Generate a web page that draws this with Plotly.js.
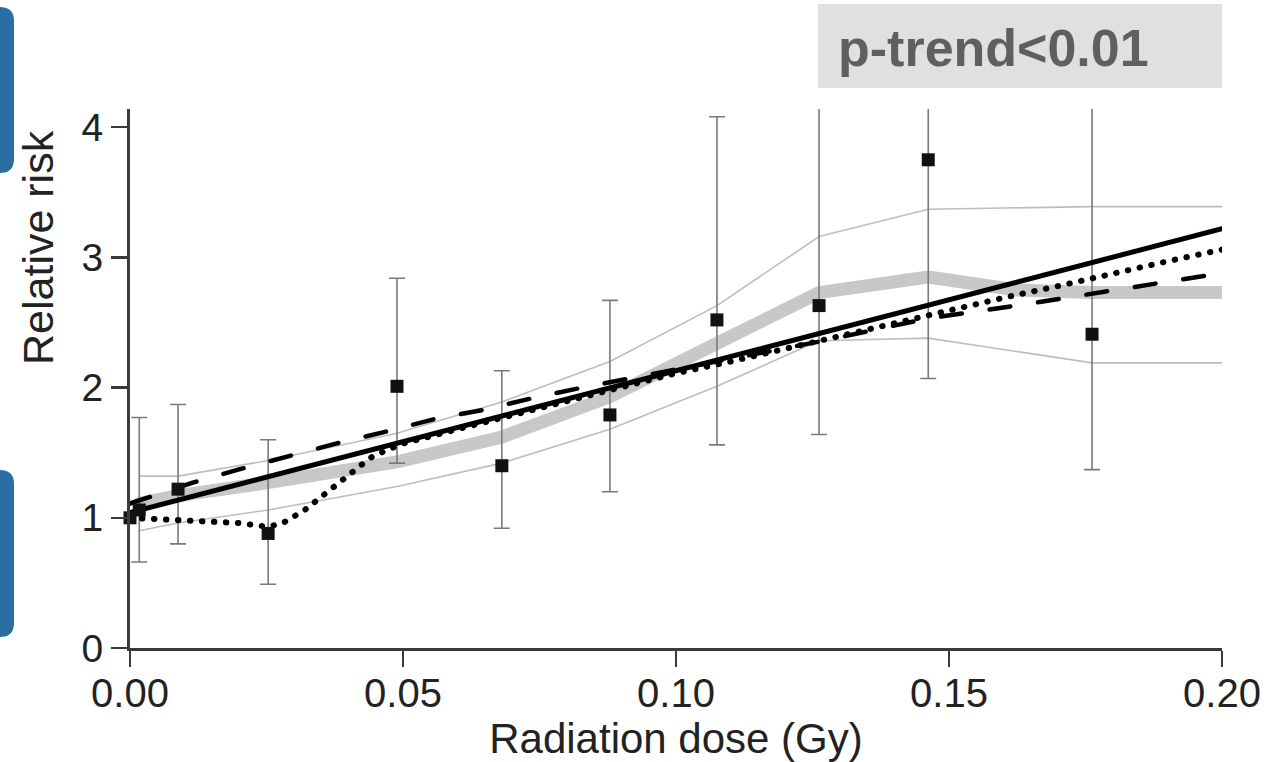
<!DOCTYPE html>
<html>
<head>
<meta charset="utf-8">
<script src="https://cdn.plot.ly/plotly-3.0.1.min.js"></script>
<style>
html, body { margin: 0; padding: 0; background: #ffffff; }
#chart { width: 1278px; height: 762px; }
#chart path.js-line { stroke-linecap: round !important; stroke-linejoin: round !important; }
</style>
</head>
<body>
<div id="chart"></div>
<script>
// ---- Data ----
// Category-specific relative risks (squares) with 95% CI
const doseCat = [0.0017, 0.0088, 0.0253, 0.0489, 0.0681, 0.0879, 0.1075, 0.1262, 0.1462, 0.1762];
const rrCat   = [1.06, 1.22, 0.88, 2.01, 1.40, 1.79, 2.52, 2.63, 3.75, 2.41];
const ciLow   = [0.66, 0.80, 0.49, 1.42, 0.92, 1.20, 1.56, 1.64, 2.07, 1.37];
const ciHigh  = [1.77, 1.87, 1.60, 2.84, 2.13, 2.67, 4.08, 4.60, 5.20, 5.00];

// Reference category
const refDose = [0];
const refRR = [1.0];

// Linear fitted model (solid)
const linDose = [0, 0.2];
const linRR = [1.04, 3.22];

// Second model (dashed)
const dashDose = [0, 0.0115, 0.0198, 0.0288, 0.0377, 0.0467, 0.0559, 0.0648, 0.0738, 0.0828, 0.0916, 0.110, 0.127, 0.146, 0.164, 0.182, 0.2];
const dashRR   = [1.11, 1.27, 1.37, 1.47, 1.57, 1.66, 1.76, 1.83, 1.92, 2.00, 2.07, 2.22, 2.36, 2.53, 2.64, 2.76, 2.88];

// Third model (dotted)
const dotDose = [0, 0.005, 0.010, 0.015, 0.020, 0.0253, 0.028, 0.032, 0.035, 0.038, 0.041, 0.044, 0.047, 0.050, 0.060, 0.070, 0.080, 0.090, 0.100, 0.110, 0.120, 0.130, 0.140, 0.150, 0.160, 0.170, 0.180, 0.190, 0.200];
const dotRR   = [1.00, 0.99, 0.98, 0.97, 0.96, 0.93, 0.96, 1.06, 1.16, 1.26, 1.37, 1.46, 1.52, 1.57, 1.68, 1.79, 1.90, 2.01, 2.11, 2.20, 2.30, 2.40, 2.50, 2.60, 2.69, 2.78, 2.88, 2.97, 3.06];

// Smoothed estimate (thick grey) and its confidence band (thin grey)
const smoothDose = [0.0017, 0.0088, 0.0253, 0.0489, 0.0681, 0.0879, 0.1075, 0.1262, 0.1462, 0.1625, 0.1762, 0.2];
const smoothRR   = [1.11, 1.17, 1.27, 1.43, 1.62, 1.93, 2.34, 2.73, 2.85, 2.75, 2.73, 2.73];
const bandDose   = [0.0017, 0.0088, 0.0253, 0.0489, 0.0681, 0.0879, 0.1075, 0.1262, 0.1462, 0.1762, 0.2];
const bandUpper  = [1.32, 1.32, 1.44, 1.65, 1.89, 2.20, 2.63, 3.16, 3.37, 3.39, 3.39];
const bandLower  = [0.90, 0.96, 1.06, 1.24, 1.42, 1.68, 2.01, 2.36, 2.38, 2.19, 2.19];

// Axis ticks and labels
const xTickVals = [0, 0.05, 0.10, 0.15, 0.20];
const xTickText = ['0.00', '0.05', '0.10', '0.15', '0.20'];
const yTickVals = [0, 1, 2, 3, 4];
const xTitle = 'Radiation dose (Gy)';
const yTitle = 'Relative risk';
const trendLabel = 'p-trend<0.01';

// ---- Layout helpers (pixel -> paper) ----
const W = 1278, H = 762;
const M = { l: 130, r: 56, t: 109, b: 114 };
const PW = W - M.l - M.r, PH = H - M.t - M.b;
const px = x => (x - M.l) / PW;
const py = y => (H - M.b - y) / PH;

function roundRightPath(x0, x1, y0, y1, r) {
  return 'M ' + px(x0) + ',' + py(y0) +
    ' L ' + px(x1 - r) + ',' + py(y0) +
    ' Q ' + px(x1) + ',' + py(y0) + ' ' + px(x1) + ',' + py(y0 + r) +
    ' L ' + px(x1) + ',' + py(y1 - r) +
    ' Q ' + px(x1) + ',' + py(y1) + ' ' + px(x1 - r) + ',' + py(y1) +
    ' L ' + px(x0) + ',' + py(y1) + ' Z';
}

const FONT = '"Liberation Sans", Arial, Helvetica, sans-serif';

const traces = [
  { x: bandDose, y: bandUpper, type: 'scatter', mode: 'lines',
    line: { color: '#bdbdbd', width: 1.6 }, hoverinfo: 'skip' },
  { x: bandDose, y: bandLower, type: 'scatter', mode: 'lines',
    line: { color: '#bdbdbd', width: 1.6 }, hoverinfo: 'skip' },
  { x: smoothDose, y: smoothRR, type: 'scatter', mode: 'lines',
    line: { color: '#c8c8c8', width: 13 }, hoverinfo: 'skip' },
  { x: doseCat, y: rrCat, type: 'scatter', mode: 'markers', cliponaxis: true,
    marker: { symbol: 'square', size: 1, color: 'rgba(0,0,0,0)' },
    error_y: { type: 'data', symmetric: false,
      array: ciHigh.map((h, i) => h - rrCat[i]),
      arrayminus: rrCat.map((v, i) => v - ciLow[i]),
      color: '#7a7a7a', thickness: 1.6, width: 8 } },
  { x: dashDose, y: dashRR, type: 'scatter', mode: 'lines',
    line: { color: '#000000', width: 4.5, dash: '21px,28px' } },
  { x: dotDose, y: dotRR, type: 'scatter', mode: 'lines',
    line: { color: '#000000', width: 6, dash: '0.5px,11.5px' } },
  { x: linDose, y: linRR, type: 'scatter', mode: 'lines',
    line: { color: '#000000', width: 5 } },
  { x: doseCat, y: rrCat, type: 'scatter', mode: 'markers', cliponaxis: false,
    marker: { symbol: 'square', size: 13, color: '#111111' } },
  { x: refDose, y: refRR, type: 'scatter', mode: 'markers', cliponaxis: false,
    marker: { symbol: 'square', size: 13, color: '#111111' } }
];

const layout = {
  width: W, height: H,
  margin: M,
  paper_bgcolor: '#ffffff', plot_bgcolor: '#ffffff',
  showlegend: false,
  font: { family: FONT, color: '#222222' },
  xaxis: {
    range: [0, 0.2], tickvals: xTickVals, ticktext: xTickText,
    showgrid: false, zeroline: false, showline: true, linecolor: '#3a3a3a', linewidth: 3,
    ticks: 'outside', ticklen: 16, tickwidth: 2.5, tickcolor: '#3a3a3a',
    tickfont: { size: 40, family: FONT, color: '#222222' },
    ticklabelstandoff: -8,
    title: { text: xTitle, font: { size: 42, family: FONT, color: '#222222' }, standoff: 4 },
    automargin: false, fixedrange: true
  },
  yaxis: {
    range: [0, 4.14], tickvals: yTickVals,
    showgrid: false, zeroline: false, showline: true, linecolor: '#3a3a3a', linewidth: 3,
    ticks: 'outside', ticklen: 16, tickwidth: 2.5, tickcolor: '#3a3a3a',
    tickfont: { size: 39, family: FONT, color: '#222222' },
    automargin: false, fixedrange: true
  },
  shapes: [
    { type: 'path', xref: 'paper', yref: 'paper', path: roundRightPath(-20, 14, 7, 173, 14),
      fillcolor: '#2c6da4', line: { width: 0 } },
    { type: 'path', xref: 'paper', yref: 'paper', path: roundRightPath(-20, 14, 470, 637, 14),
      fillcolor: '#2c6da4', line: { width: 0 } },
    { type: 'rect', xref: 'paper', yref: 'paper', x0: px(818), x1: px(1222), y0: py(88), y1: py(4),
      fillcolor: '#e0e0e0', line: { width: 0 } }
  ],
  annotations: [
    { text: trendLabel, xref: 'paper', yref: 'paper', x: px(836), y: py(48),
      xanchor: 'left', yanchor: 'middle', showarrow: false,
      font: { size: 52, family: FONT, color: '#5f5f5f', weight: 'bold' } },
    { text: yTitle, xref: 'paper', yref: 'paper', x: px(38), y: py(248),
      xanchor: 'center', yanchor: 'middle', textangle: -90, showarrow: false,
      font: { size: 43, family: FONT, color: '#222222' } }
  ]
};

Plotly.newPlot('chart', traces, layout, { displayModeBar: false, staticPlot: true }).then(function (gd) {
  gd.querySelectorAll('path.js-line').forEach(function (p) {
    p.style.strokeLinecap = 'round';
    p.style.strokeLinejoin = 'round';
  });
});
</script>
</body>
</html>
